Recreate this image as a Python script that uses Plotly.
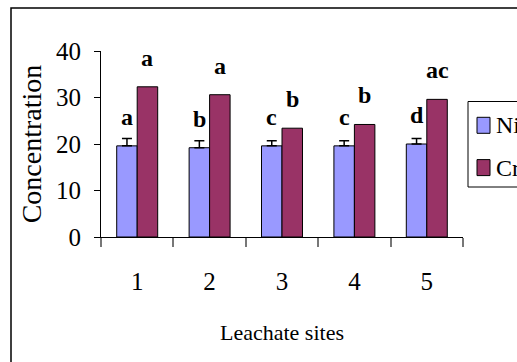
import plotly.graph_objects as go

# Leachate site concentrations for nickel and chromium
sites = ["1", "2", "3", "4", "5"]
ni_values = [19.6, 19.2, 19.6, 19.6, 20.0]
ni_errors = [1.6, 1.5, 1.1, 1.1, 1.2]
cr_values = [32.3, 30.6, 23.4, 24.2, 29.6]
ni_letters = ["a", "b", "c", "c", "d"]
cr_letters = ["a", "a", "b", "b", "ac"]
y_ticks = [0, 10, 20, 30, 40]
series_names = ["Ni", "Cr"]
series_colors = ["#9999FF", "#993366"]

W, H = 517, 362
L, R, T, B = 101, 54, 51, 125
plot_w = W - L - R
plot_h = H - T - B


def px_x(px):
    return (px - L) / plot_w


def px_y(py):
    return (H - B - py) / plot_h


serif = "Liberation Serif"
BARGAP = 0.434
half_bar = plot_w / len(sites) * (1 - BARGAP) / 4

fig = go.Figure()
fig.add_trace(go.Bar(
    x=sites, y=ni_values, name=series_names[0],
    marker=dict(color=series_colors[0], line=dict(color="black", width=1)),
    error_y=dict(type="data", array=ni_errors, arrayminus=[0] * len(sites),
                 symmetric=False, color="black", thickness=1.5, width=5),
))
fig.add_trace(go.Bar(
    x=sites, y=cr_values, name=series_names[1],
    marker=dict(color=series_colors[1], line=dict(color="black", width=1)),
))

# significance letters above each bar
for i in range(len(sites)):
    for val, letter, shift in ((ni_values[i], ni_letters[i], -half_bar),
                               (cr_values[i], cr_letters[i], half_bar)):
        fig.add_annotation(
            x=i, y=val, text=f"<b>{letter}</b>", showarrow=False,
            xshift=shift, yshift=29, yanchor="middle",
            font=dict(family=serif, size=24, color="black"),
        )

# outer chart frame
fig.add_shape(type="rect", xref="paper", yref="paper",
              x0=px_x(11), x1=px_x(540), y0=px_y(380), y1=px_y(8),
              line=dict(color="black", width=1.5), layer="below")

# legend box at the right edge of the chart
fig.add_shape(type="rect", xref="paper", yref="paper",
              x0=px_x(468), x1=px_x(560), y0=px_y(187), y1=px_y(101.5),
              line=dict(color="black", width=1), fillcolor="white")
for name, color, cy in zip(series_names, series_colors, [125.3, 167.6]):
    fig.add_shape(type="rect", xref="paper", yref="paper",
                  x0=px_x(477), x1=px_x(490), y0=px_y(cy + 8), y1=px_y(cy - 8),
                  line=dict(color="black", width=1), fillcolor=color)
    fig.add_annotation(
        xref="paper", yref="paper", x=px_x(494), y=px_y(cy),
        xanchor="left", yanchor="middle", showarrow=False, text=name,
        font=dict(family=serif, size=24, color="black"),
    )

fig.update_layout(
    width=W, height=H, autosize=False,
    margin=dict(l=L, r=R, t=T, b=B, autoexpand=False),
    paper_bgcolor="white", plot_bgcolor="white",
    barmode="group", bargap=BARGAP, bargroupgap=0,
    font=dict(family=serif, color="black"),
    showlegend=False,
    xaxis=dict(
        type="category", range=[-0.5, 4.5],
        showline=True, linecolor="black", linewidth=1,
        ticks="outside", ticklen=9, tickcolor="#777777", tickwidth=1.5,
        tickson="boundaries", ticklabelstandoff=22,
        tickfont=dict(family=serif, size=25, color="black"),
        title=dict(text="Leachate sites", standoff=30,
                   font=dict(family=serif, size=22, color="black")),
        showgrid=False, zeroline=False,
    ),
    yaxis=dict(
        range=[0, 40], tickvals=y_ticks,
        showline=True, linecolor="black", linewidth=1,
        ticks="outside", ticklen=6, tickcolor="black", tickwidth=1,
        ticklabelstandoff=8,
        tickfont=dict(family=serif, size=25, color="black"),
        title=dict(text="Concentration", standoff=6,
                   font=dict(family=serif, size=28, color="black")),
        showgrid=False, zeroline=False,
    ),
)

fig.write_html("out.html")
